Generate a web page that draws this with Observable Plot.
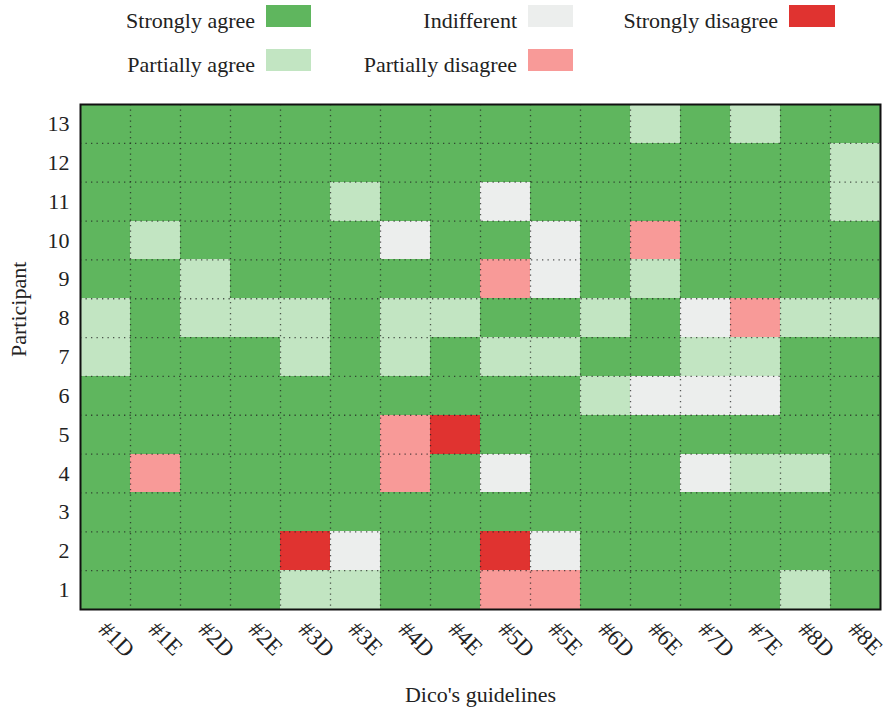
<!DOCTYPE html>
<html>
<head>
<meta charset="utf-8">
<script src="https://cdn.jsdelivr.net/npm/d3@7"></script>
<script src="https://cdn.jsdelivr.net/npm/@observablehq/plot@0.6"></script>
<style>
  html, body { margin: 0; padding: 0; background: #fff; }
  body { font-family: "Liberation Serif", "DejaVu Serif", serif; color: #222; }
  #legend { position: relative; width: 893px; height: 95px; font-size: 22px; }
  #legend .sw { position: absolute; height: 22px; }
  #legend .lb { position: absolute; white-space: nowrap; line-height: 22px; text-align: right; }
  #chart svg { display: block; }
</style>
</head>
<body>
<div id="legend"></div>
<div id="chart"></div>
<script>
// ---- data ----
const guidelines = ["#1D","#1E","#2D","#2E","#3D","#3E","#4D","#4E","#5D","#5E","#6D","#6E","#7D","#7E","#8D","#8E"];
const participants = [1,2,3,4,5,6,7,8,9,10,11,12,13];
const levels = ["Strongly agree","Partially agree","Indifferent","Partially disagree","Strongly disagree"];
const levelColors = ["#5fb65e","#c2e5c2","#eceeed","#f89a98","#e03330"];
// scores: 2 = strongly agree, 1 = partially agree, 0 = indifferent, -1 = partially disagree, -2 = strongly disagree
const p1  = [2,2,2,2,1,1,2,2,-1,-1,2,2,2,2,1,2];
const p2  = [2,2,2,2,-2,0,2,2,-2,0,2,2,2,2,2,2];
const p3  = [2,2,2,2,2,2,2,2,2,2,2,2,2,2,2,2];
const p4  = [2,-1,2,2,2,2,-1,2,0,2,2,2,0,1,1,2];
const p5  = [2,2,2,2,2,2,-1,-2,2,2,2,2,2,2,2,2];
const p6  = [2,2,2,2,2,2,2,2,2,2,1,0,0,0,2,2];
const p7  = [1,2,2,2,1,2,1,2,1,1,2,2,1,1,2,2];
const p8  = [1,2,1,1,1,2,1,1,2,2,1,2,0,-1,1,1];
const p9  = [2,2,1,2,2,2,2,2,-1,0,2,1,2,2,2,2];
const p10 = [2,1,2,2,2,2,0,2,2,0,2,-1,2,2,2,2];
const p11 = [2,2,2,2,2,1,2,2,0,2,2,2,2,2,2,1];
const p12 = [2,2,2,2,2,2,2,2,2,2,2,2,2,2,2,1];
const p13 = [2,2,2,2,2,2,2,2,2,2,2,1,2,1,2,2];
const scores = [p1,p2,p3,p4,p5,p6,p7,p8,p9,p10,p11,p12,p13];
const scoreToLevel = {"2":"Strongly agree","1":"Partially agree","0":"Indifferent","-1":"Partially disagree","-2":"Strongly disagree"};

const cells = [];
scores.forEach((row, r) => row.forEach((s, c) => cells.push({
  col: c, row: r, guideline: guidelines[c], participant: participants[r], level: scoreToLevel[String(s)]
})));

// ---- legend (HTML, above the SVG) ----
const legendPos = [
  {x: 266, y: 5, w: 45},   // Strongly agree
  {x: 266, y: 49, w: 45},  // Partially agree
  {x: 528, y: 5, w: 45},   // Indifferent
  {x: 528, y: 49, w: 45},  // Partially disagree
  {x: 789, y: 5, w: 46}    // Strongly disagree
];
const legend = document.getElementById("legend");
levels.forEach((lv, i) => {
  const p = legendPos[i];
  const sw = document.createElement("div");
  sw.className = "sw";
  Object.assign(sw.style, {left: p.x + "px", top: p.y + "px", width: p.w + "px", background: levelColors[i]});
  legend.appendChild(sw);
  const lb = document.createElement("div");
  lb.className = "lb";
  lb.textContent = lv;
  Object.assign(lb.style, {right: (893 - p.x + 11) + "px", top: (p.y + 5) + "px"});
  legend.appendChild(lb);
});

// ---- chart ----
const nx = guidelines.length, ny = participants.length;
const chart = Plot.plot({
  width: 893,
  height: 618,
  marginTop: 9,
  marginLeft: 80,
  marginRight: 13,
  marginBottom: 104,
  style: {fontFamily: "'Liberation Serif', 'DejaVu Serif', serif", fontSize: "22px", color: "#222", background: "#fff"},
  x: {domain: [0, nx], label: null},
  y: {domain: [0, ny], label: null},
  color: {domain: levels, range: levelColors},
  marks: [
    Plot.rect(cells, {
      x1: "col", x2: d => d.col + 1, y1: "row", y2: d => d.row + 1,
      fill: "level", shapeRendering: "crispEdges"
    }),
    Plot.ruleX(d3.range(1, nx), {stroke: "#222", strokeOpacity: 0.75, strokeWidth: 1.3, strokeDasharray: "1.3,4.2"}),
    Plot.ruleY(d3.range(1, ny), {stroke: "#222", strokeOpacity: 0.75, strokeWidth: 1.3, strokeDasharray: "1.3,4.2"}),
    Plot.frame({stroke: "#111", strokeWidth: 2}),
    Plot.axisX(guidelines.map((_, i) => i + 0.5), {
      tickFormat: d => guidelines[Math.round(d - 0.5)],
      tickSize: 0, tickPadding: 16, tickRotate: 45, dx: -3, label: null,
      fontSize: 23
    }),
    Plot.axisY(participants.map((_, i) => i + 0.5), {
      tickFormat: d => participants[Math.round(d - 0.5)],
      tickSize: 0, tickPadding: 11, label: null, fontSize: 22
    }),
    Plot.text(["Dico's guidelines"], {frameAnchor: "bottom", dy: 92, fill: "#222", fontSize: 22}),
    Plot.text(["Participant"], {frameAnchor: "left", dx: -62, rotate: -90, fill: "#222", fontSize: 22})
  ]
});
document.getElementById("chart").appendChild(chart);
</script>
</body>
</html>
